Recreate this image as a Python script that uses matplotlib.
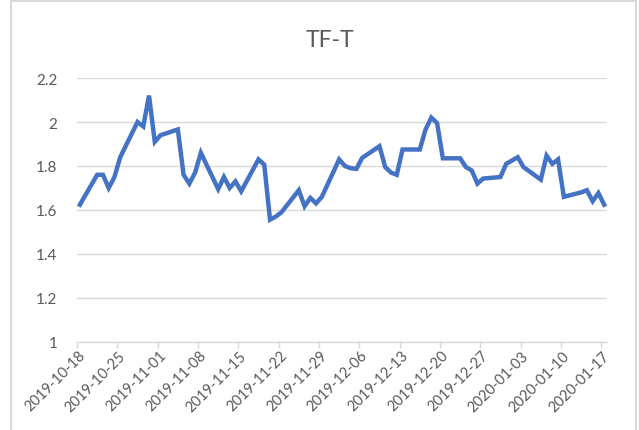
import numpy as np
import pandas as pd
import matplotlib
matplotlib.use("Agg")
import matplotlib.pyplot as plt
import matplotlib.transforms as mtransforms
from matplotlib.patches import Rectangle

plt.rcParams['font.family'] = ['Lato', 'DejaVu Sans']

# data
dates = ["2019-10-18", "2019-10-21", "2019-10-22", "2019-10-23", "2019-10-24", "2019-10-25",
         "2019-10-28", "2019-10-29", "2019-10-30", "2019-10-31", "2019-11-01",
         "2019-11-04", "2019-11-05", "2019-11-06", "2019-11-07", "2019-11-08",
         "2019-11-11", "2019-11-12", "2019-11-13", "2019-11-14", "2019-11-15",
         "2019-11-18", "2019-11-19", "2019-11-20", "2019-11-21", "2019-11-22",
         "2019-11-25", "2019-11-26", "2019-11-27", "2019-11-28", "2019-11-29",
         "2019-12-02", "2019-12-03", "2019-12-04", "2019-12-05", "2019-12-06",
         "2019-12-09", "2019-12-10", "2019-12-11", "2019-12-12", "2019-12-13",
         "2019-12-16", "2019-12-17", "2019-12-18", "2019-12-19", "2019-12-20",
         "2019-12-23", "2019-12-24", "2019-12-25", "2019-12-26", "2019-12-27",
         "2019-12-30", "2019-12-31", "2020-01-02", "2020-01-03",
         "2020-01-06", "2020-01-07", "2020-01-08", "2020-01-09", "2020-01-10",
         "2020-01-13", "2020-01-14", "2020-01-15", "2020-01-16", "2020-01-17"]
values = [1.624, 1.76, 1.76, 1.70, 1.75, 1.84,
          2.00, 1.98, 2.12, 1.91, 1.94,
          1.966, 1.76, 1.72, 1.77, 1.86,
          1.695, 1.75, 1.70, 1.73, 1.685,
          1.83, 1.806, 1.556, 1.57, 1.59,
          1.69, 1.617, 1.655, 1.63, 1.66,
          1.83, 1.80, 1.79, 1.787, 1.837,
          1.89, 1.795, 1.77, 1.76, 1.875,
          1.875, 1.966, 2.02, 1.995, 1.835,
          1.835, 1.795, 1.78, 1.72, 1.743,
          1.75, 1.81, 1.84, 1.795,
          1.738, 1.847, 1.81, 1.83, 1.66,
          1.68, 1.69, 1.64, 1.677, 1.624]
yticks = [1, 1.2, 1.4, 1.6, 1.8, 2, 2.2]
ylabels = ["1", "1.2", "1.4", "1.6", "1.8", "2", "2.2"]

x = pd.to_datetime(dates)
start = pd.Timestamp("2019-10-18")
end = pd.Timestamp("2020-01-18")

fig = plt.figure(figsize=(6.39, 4.31), dpi=100)
ax = fig.add_axes([0.1205, 0.2042, 0.8295, 0.6125])

# excel date axis puts points in the middle of each day
ax.plot(x + pd.Timedelta(hours=12), values, color="#4472C4", lw=3.2, solid_joinstyle="miter")

ax.set_xlim(start, end)
ax.set_ylim(1, 2.2)
ticks = pd.date_range(start, "2020-01-17", freq="7D")
ax.set_xticks(ticks)
ax.set_yticks(yticks)
ax.set_yticklabels(ylabels)

ax.grid(axis="y", color="#D9D9D9", lw=1)
ax.set_axisbelow(True)
for s in ["top", "right", "left"]:
    ax.spines[s].set_visible(False)
ax.spines["bottom"].set_color("#D9D9D9")
ax.spines["bottom"].set_linewidth(1)
ax.tick_params(axis="x", colors="#D9D9D9", length=4, width=1, direction="out",
               labelbottom=False)
ax.tick_params(axis="y", length=0, labelcolor="#595959", labelsize=11, pad=14)

# rotated date labels, end just right of each tick like excel does
trans = ax.get_xaxis_transform() + mtransforms.ScaledTranslation(6 / 100, -11 / 100, fig.dpi_scale_trans)
for t in ticks:
    ax.text(t, 0, t.strftime("%Y-%m-%d"), transform=trans, rotation=45,
            rotation_mode="anchor", ha="right", va="center", fontsize=10.5, color="#595959")

fig.text(0.516, 0.907, "TF-T", ha="center", va="center", fontsize=16.5, color="#595959")

# chart frame
fig.patches.append(Rectangle((0.0172, -0.1), 0.978, 1.0954, transform=fig.transFigure,
                             fill=False, edgecolor="#D9D9D9", lw=1.5))

fig.savefig("out.png", dpi=100)
